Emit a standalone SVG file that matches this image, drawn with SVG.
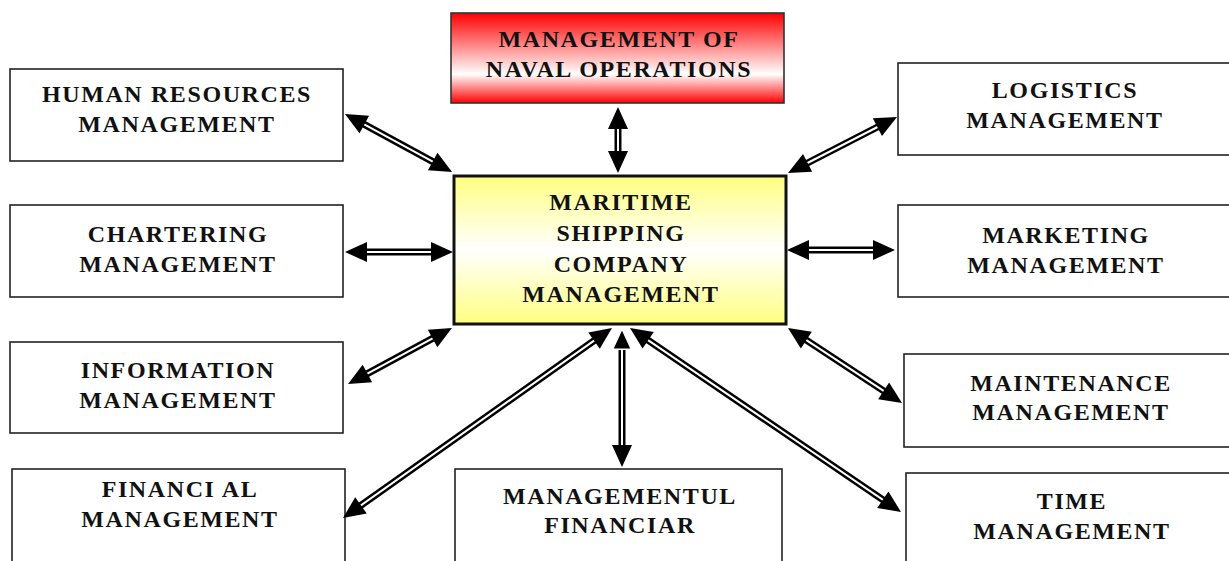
<svg xmlns="http://www.w3.org/2000/svg" width="1229" height="561" viewBox="0 0 1229 561">
<style>
.box{fill:#fff;stroke:#222;stroke-width:1.6}
.t{font-family:"Liberation Serif","Times New Roman",serif;font-weight:bold;font-size:24px;letter-spacing:1.6px;text-anchor:middle;fill:#111}
.sh{stroke:#000;stroke-width:7;fill:none}
.in{stroke:#fff;stroke-width:2;fill:none;marker-start:url(#ah);marker-end:url(#ah)}
</style>
<defs>
<linearGradient id="gr" x1="0" y1="0" x2="0" y2="1">
<stop offset="0" stop-color="#ff0000"/><stop offset="0.68" stop-color="#ffffff"/><stop offset="1" stop-color="#ff0000"/>
</linearGradient>
<linearGradient id="gy" x1="0" y1="0" x2="0" y2="1">
<stop offset="0" stop-color="#ffff80"/><stop offset="0.5" stop-color="#ffffff"/><stop offset="1" stop-color="#ffff80"/>
</linearGradient>
<marker id="ah" markerUnits="userSpaceOnUse" markerWidth="24" markerHeight="22" viewBox="0 0 24 22" refX="11" refY="11" orient="auto-start-reverse">
<path d="M1,1 L23,11 L1,21 z" fill="#000"/>
</marker>
<marker id="ahw" markerUnits="userSpaceOnUse" markerWidth="26" markerHeight="26" viewBox="-2 -2 28 26" refX="11" refY="11" orient="auto-start-reverse">
<path d="M1,1 L23,11 L1,21 z" fill="#000" stroke="#fff" stroke-width="1.5"/>
</marker>
</defs>
<rect width="1229" height="561" fill="#fff"/>

<g id="top"><rect x="451" y="13" width="333" height="90" fill="url(#gr)" stroke="#333" stroke-width="1.6"/>
<text class="t" x="619" y="47">MANAGEMENT OF</text><text class="t" x="619" y="77">NAVAL OPERATIONS</text></g>

<g id="center"><rect x="454" y="176" width="332" height="148" fill="url(#gy)" stroke="#111" stroke-width="3"/>
<text class="t" x="621" y="210">MARITIME</text><text class="t" x="621" y="241">SHIPPING</text><text class="t" x="621" y="272">COMPANY</text><text class="t" x="621" y="302">MANAGEMENT</text></g>

<g id="hr"><rect class="box" x="10" y="69" width="333" height="92"/>
<text class="t" x="177" y="102">HUMAN RESOURCES</text><text class="t" x="177" y="132">MANAGEMENT</text></g>

<g id="chartering"><rect class="box" x="10" y="205" width="333" height="92"/>
<text class="t" x="178" y="242">CHARTERING</text><text class="t" x="178" y="272">MANAGEMENT</text></g>

<g id="information"><rect class="box" x="10" y="342" width="333" height="91"/>
<text class="t" x="178" y="378">INFORMATION</text><text class="t" x="178" y="408">MANAGEMENT</text></g>

<g id="financial"><rect class="box" x="12" y="469" width="333" height="100"/>
<text class="t" x="180" y="497">FINANCI AL</text><text class="t" x="180" y="527">MANAGEMENT</text></g>

<g id="managementul"><rect class="box" x="455" y="469" width="327" height="100"/>
<text class="t" x="620" y="504">MANAGEMENTUL</text><text class="t" x="620" y="533">FINANCIAR</text></g>

<g id="logistics"><rect class="box" x="898" y="63" width="340" height="92"/>
<text class="t" x="1065" y="98">LOGISTICS</text><text class="t" x="1065" y="128">MANAGEMENT</text></g>

<g id="marketing"><rect class="box" x="898" y="205" width="340" height="92"/>
<text class="t" x="1066" y="243">MARKETING</text><text class="t" x="1066" y="273">MANAGEMENT</text></g>

<g id="maintenance"><rect class="box" x="904" y="354" width="340" height="93"/>
<text class="t" x="1071" y="391">MAINTENANCE</text><text class="t" x="1071" y="420">MANAGEMENT</text></g>

<g id="time"><rect class="box" x="906" y="473" width="340" height="100"/>
<text class="t" x="1072" y="509">TIME</text><text class="t" x="1072" y="539">MANAGEMENT</text></g>

<g id="connectors">
<line class="sh" x1="355.5" y1="119.7" x2="441.5" y2="166.3"/><line class="in" x1="355.5" y1="119.7" x2="441.5" y2="166.3"/>
<line class="sh" x1="618" y1="119" x2="618" y2="161"/><line class="in" x1="618" y1="119" x2="618" y2="161"/>
<line class="sh" x1="798.7" y1="167.5" x2="886.3" y2="122.5"/><line class="in" x1="798.7" y1="167.5" x2="886.3" y2="122.5"/>
<line class="sh" x1="357" y1="252" x2="441" y2="252"/><line class="in" x1="357" y1="252" x2="441" y2="252"/>
<line class="sh" x1="799" y1="250" x2="883" y2="250"/><line class="in" x1="799" y1="250" x2="883" y2="250"/>
<line class="sh" x1="441.4" y1="333.7" x2="358.6" y2="378.3"/><line class="in" x1="441.4" y1="333.7" x2="358.6" y2="378.3"/>
<line class="sh" x1="798" y1="334.6" x2="892" y2="396.4"/><line class="in" x1="798" y1="334.6" x2="892" y2="396.4"/>
<line class="sh" x1="602.2" y1="334.9" x2="352.8" y2="511.1"/><line class="in" x1="602.2" y1="334.9" x2="352.8" y2="511.1"/>
<line class="sh" x1="639.9" y1="334.7" x2="891.1" y2="505.3"/><line class="in" x1="639.9" y1="334.7" x2="891.1" y2="505.3"/>
<line class="sh" x1="622" y1="340" x2="622" y2="455"/><line x1="622" y1="340" x2="622" y2="455" stroke="#fff" stroke-width="2" marker-start="url(#ahw)" marker-end="url(#ah)"/>
</g>
</svg>
